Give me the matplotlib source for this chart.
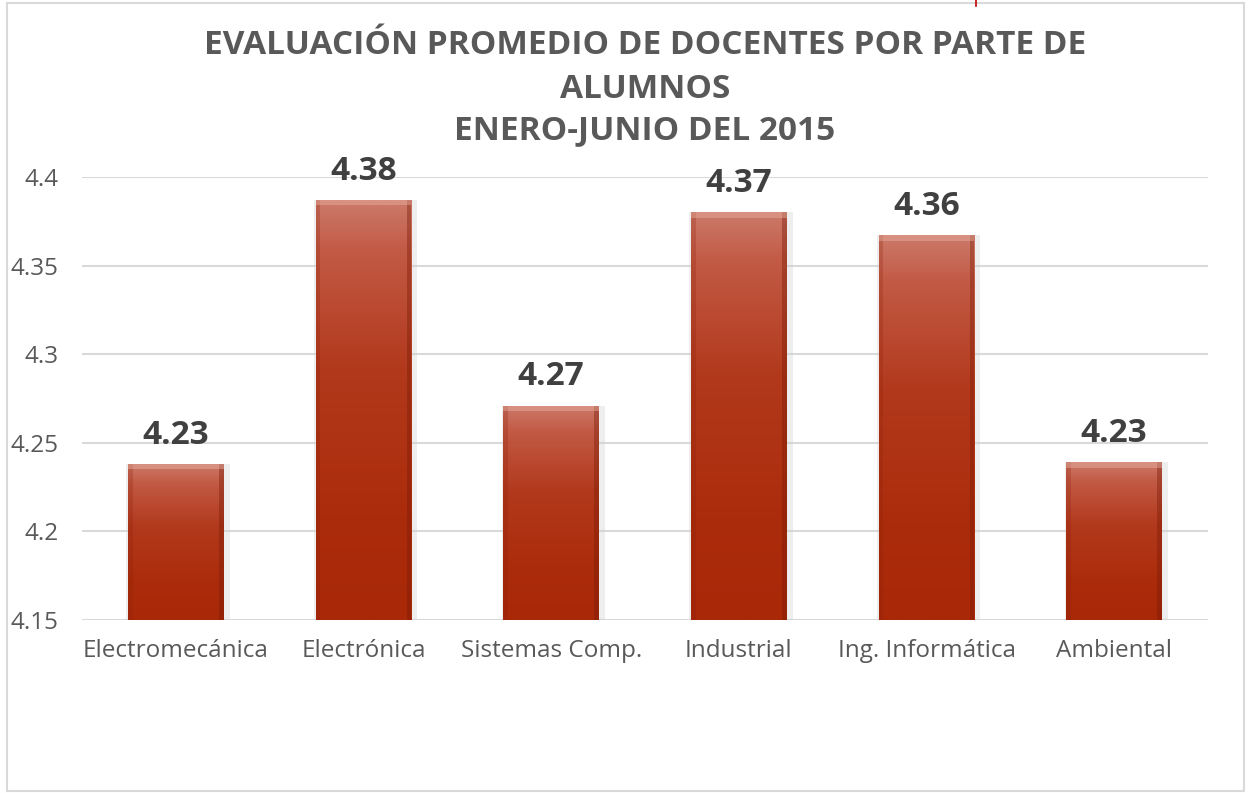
import numpy as np
import matplotlib
matplotlib.use("Agg")
import matplotlib.pyplot as plt
from matplotlib.patches import Rectangle
from matplotlib.colors import LinearSegmentedColormap

categories = ["Electromecánica", "Electrónica", "Sistemas Comp.", "Industrial", "Ing. Informática", "Ambiental"]
values = [4.238, 4.387, 4.271, 4.380, 4.367, 4.239]
value_labels = ["4.23", "4.38", "4.27", "4.37", "4.36", "4.23"]
yticks = [4.15, 4.2, 4.25, 4.3, 4.35, 4.4]
ytick_labels = ["4.15", "4.2", "4.25", "4.3", "4.35", "4.4"]
title_lines = ["EVALUACIÓN PROMEDIO DE DOCENTES POR PARTE DE", "ALUMNOS", "ENERO-JUNIO DEL 2015"]

plt.rcParams['font.family'] = ['Open Sans', 'DejaVu Sans']

W, H = 1253, 793
fig = plt.figure(figsize=(W / 100, H / 100), dpi=100)
fig.patch.set_facecolor("white")

# outer frame
fig.patches.append(Rectangle((7 / W, 1 - 791 / H), (1244 - 7) / W, (791 - 3) / H,
                             transform=fig.transFigure, fill=False,
                             edgecolor="#d9d9d9", linewidth=1.5))
# small red mark at top
fig.lines.append(plt.Line2D([976 / W, 976 / W], [1, 1 - 6 / H], transform=fig.transFigure,
                            color="#c00000", linewidth=1.2))

ax = fig.add_axes([82 / W, 1 - 620 / H, (1208 - 82) / W, (620 - 177) / H])
ax.set_xlim(-0.5, len(categories) - 0.5)
ax.set_ylim(4.15, 4.4)
for s in ax.spines.values():
    s.set_visible(False)
ax.set_yticks(yticks)
ax.set_yticklabels(ytick_labels)
ax.tick_params(axis="y", length=0, pad=17, labelsize=17.5, labelcolor="#595959")
ax.tick_params(axis="x", length=0, pad=14, labelsize=17.5, labelcolor="#595959")
ax.yaxis.grid(True, color="#d9d9d9", linewidth=1.5)
ax.set_axisbelow(True)

x = np.arange(len(categories))
ax.set_xticks(x)
ax.set_xticklabels(categories)

bw = 0.51
# soft shadow
ax.bar(x + 0.012, np.array(values) - 4.15, bottom=4.15, width=bw + 0.04,
       color="#cfcfcf", alpha=0.35, zorder=2, edgecolor="none")
bars = ax.bar(x, np.array(values) - 4.15, bottom=4.15, width=bw, color="#ad2d10",
              edgecolor="none", zorder=3)

cmap_v = LinearSegmentedColormap.from_list(
    "v", [(0.0, "#cc7a6a"), (0.12, "#c25a45"), (0.4, "#b2391c"), (0.75, "#ab2c0c"), (1.0, "#a82808")])
grad = np.linspace(0, 1, 256).reshape(-1, 1)
for b in bars:
    x0, y0 = b.get_x(), b.get_y()
    w, h = b.get_width(), b.get_height()
    im = ax.imshow(grad, extent=(x0, x0 + w, y0, y0 + h), aspect="auto", cmap=cmap_v,
                   zorder=3.5, origin="upper")
    im.set_clip_path(b)
    # darker side edges
    ax.add_patch(Rectangle((x0, y0), w * 0.05, h, color="#8e2008", alpha=0.25, zorder=3.6, lw=0))
    ax.add_patch(Rectangle((x0 + w * 0.95, y0), w * 0.05, h, color="#7a1a05", alpha=0.4, zorder=3.6, lw=0))
    # light top bevel
    ax.add_patch(Rectangle((x0, y0 + h - 0.003), w, 0.003, color="#e8b0a0", alpha=0.45, zorder=3.7, lw=0))

for xi, v, lab in zip(x, values, value_labels):
    ax.annotate(lab, (xi, v), xytext=(0, 9), textcoords="offset points",
                ha="center", va="bottom", fontsize=24, fontweight="bold",
                color="#404040", clip_on=False, zorder=5)

title_y = [46, 89, 131]
for t, yy in zip(title_lines, title_y):
    fig.text(645 / W, 1 - yy / H, t, ha="center", va="center", fontsize=24,
             fontweight="bold", color="#595959")

fig.savefig("out.png", dpi=100)
